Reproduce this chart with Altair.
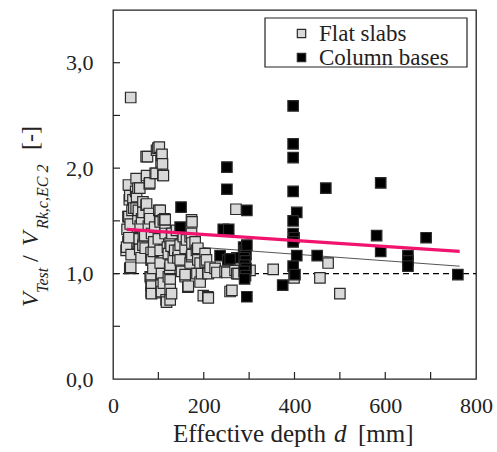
import altair as alt
import pandas as pd

# ---- data ----
flat_x = [29, 33, 34, 35, 36, 37, 37, 39, 39, 41, 44, 44, 45, 48, 48, 33, 30, 31, 35, 38,
          40, 42, 46, 50, 51, 51, 52, 55, 55, 56, 58, 59, 59, 60, 62, 63, 66, 66, 66, 67,
          70, 71, 73, 73, 74, 74, 76, 78, 80, 80, 81, 81, 82, 84, 84, 84, 84, 84, 85, 85,
          85, 85, 88, 89, 90, 92, 93, 95, 96, 99, 100, 101, 102, 103, 104, 104, 104, 104, 106, 106,
          106, 106, 107, 107, 107, 108, 109, 110, 111, 111, 111, 114, 115, 115, 115, 117, 118, 120, 122, 122,
          125, 126, 126, 128, 126, 126, 126, 129, 129, 130, 133, 136, 140, 143, 144, 148, 148, 151, 155, 159,
          159, 159, 162, 165, 166, 170, 170, 173, 173, 173, 174, 174, 174, 181, 184, 185, 187, 187, 192, 192,
          195, 199, 203, 203, 206, 209, 209, 210, 210, 214, 225, 229, 247, 251, 258, 262, 269, 269, 271, 273,
          273, 276, 302, 353, 399, 456, 474, 500]
flat_y = [1.22, 1.54, 1.84, 1.54, 1.70, 1.74, 1.05, 2.67, 1.06, 1.38, 1.38, 1.70, 1.29, 1.44, 1.29, 1.30, 1.25, 1.42, 1.34, 1.47,
          1.18, 1.60, 1.62, 1.78, 1.90, 1.62, 1.73, 1.81, 1.52, 1.60, 1.33, 1.81, 1.23, 1.45, 1.15, 1.52, 1.68, 1.58, 1.27, 1.35,
          1.36, 1.24, 2.11, 1.65, 1.66, 1.93, 2.11, 1.45, 1.85, 1.57, 1.86, 1.52, 0.97, 1.20, 1.13, 0.96, 0.89, 0.82, 1.38, 1.13,
          0.88, 0.81, 1.05, 1.21, 1.30, 1.44, 1.95, 1.95, 2.17, 2.19, 1.33, 1.60, 2.20, 1.52, 1.60, 1.49, 1.22, 1.10, 2.06, 0.94,
          0.89, 0.82, 2.12, 1.00, 0.83, 2.13, 2.04, 1.93, 1.93, 1.51, 0.91, 1.52, 1.51, 1.41, 1.38, 0.75, 0.73, 1.25, 0.97, 1.19,
          1.05, 1.08, 1.29, 1.26, 0.94, 0.85, 0.75, 0.81, 1.38, 1.38, 1.15, 1.22, 1.41, 1.15, 1.22, 1.27, 1.13, 1.02, 1.35, 0.97,
          1.24, 0.99, 1.32, 0.87, 0.88, 1.35, 1.10, 1.51, 1.38, 1.16, 1.49, 1.29, 1.18, 1.30, 1.22, 1.00, 1.24, 1.13, 1.10, 0.92,
          1.00, 0.79, 1.19, 1.11, 1.13, 1.01, 0.78, 1.00, 0.77, 1.06, 1.05, 1.01, 1.02, 1.01, 0.83, 0.84, 1.11, 1.03, 1.61, 1.13,
          1.00, 1.00, 1.03, 1.04, 0.96, 0.96, 1.10, 0.81]

col_x = [148, 150, 236, 243, 251, 251, 255, 253, 273, 258, 288, 291, 293, 289, 292, 290, 293, 289, 292, 290,
         295, 295, 295, 374, 397, 397, 397, 397, 405, 397, 397, 399, 397, 405, 397, 401, 450, 469, 581, 590,
         590, 650, 650, 650, 690, 760]
col_y = [1.44, 1.63, 1.17, 1.42, 2.01, 1.80, 1.42, 1.13, 1.15, 1.14, 1.25, 1.22, 1.18, 1.15, 1.12, 1.08, 1.05, 1.02, 0.98, 0.95,
         1.27, 1.60, 0.78, 0.89, 2.59, 2.23, 2.10, 1.78, 1.58, 1.50, 1.38, 1.34, 1.30, 1.17, 1.07, 0.99, 1.17, 1.81, 1.36, 1.86,
         1.21, 1.17, 1.12, 1.07, 1.34, 0.99]

series_names = ["Flat slabs", "Column bases"]

pink_x = [30, 764]
pink_y = [1.42, 1.21]
gray_x = [30, 764]
gray_y = [1.30, 1.07]
ref_x = [0, 800]
ref_y = [1.0, 1.0]

x_label_values = [0, 200, 400, 600, 800]
y_label_values = [0, 1, 2, 3]
x_minor_ticks = [100, 200, 300, 400, 500, 600, 700]
y_minor_ticks = [0.5, 1.0, 1.5, 2.0, 2.5, 3.0]

# ---- tables ----
pts = pd.DataFrame({
    "d": flat_x + col_x,
    "v": flat_y + col_y,
    "type": [series_names[0]] * len(flat_x) + [series_names[1]] * len(col_x),
    "ord": list(range(len(flat_x) + len(col_x))),
})
pink = pd.DataFrame({"d": pink_x, "v": pink_y})
gray = pd.DataFrame({"d": gray_x, "v": gray_y})
ref = pd.DataFrame({"d": ref_x, "v": ref_y})
xt = pd.DataFrame({"d": x_minor_ticks})
yt = pd.DataFrame({"v": y_minor_ticks})

FONT = "Liberation Serif"
TXT = "#222222"

xscale = alt.Scale(domain=[0, 800], nice=False)
yscale = alt.Scale(domain=[0, 3.5], nice=False)
xaxis = alt.Axis(values=x_label_values, title=None, grid=False, domain=False, ticks=False, tickSize=0,
                 labelFont=FONT, labelFontSize=22, labelColor=TXT, labelPadding=16, labelFlush=False)
yaxis = alt.Axis(values=y_label_values, title=None, grid=False, domain=False, ticks=False, tickSize=0,
                 labelFont=FONT, labelFontSize=22, labelColor=TXT, labelPadding=20,
                 labelExpr="replace(format(datum.value, '.1f'), '.', ',')")


def X(f="d"):
    return alt.X(f, type="quantitative", scale=xscale, axis=xaxis)


def Y(f="v"):
    return alt.Y(f, type="quantitative", scale=yscale, axis=yaxis)


refline = alt.Chart(ref).mark_line(color="black", strokeWidth=1.2, strokeDash=[6, 4]).encode(x=X(), y=Y())
grayline = alt.Chart(gray).mark_line(color="#555555", strokeWidth=1.0).encode(x=X(), y=Y())

points = alt.Chart(pts).mark_square(filled=True, size=110, stroke="#2a2a2a", strokeWidth=1.2, opacity=1).encode(
    x=X(), y=Y(),
    color=alt.Color("type:N",
                    scale=alt.Scale(domain=series_names, range=["#d9d9d9", "#000000"]),
                    legend=alt.Legend(title=None, orient="none", legendX=177, legendY=12,
                                      symbolType="square", symbolSize=70,
                                      symbolStrokeColor="#2a2a2a", symbolStrokeWidth=1.2,
                                      labelFont=FONT, labelFontSize=23, labelColor=TXT,
                                      labelOffset=6, rowPadding=0, padding=0)),
    order=alt.Order("ord:Q"),
)

pinkline = alt.Chart(pink).mark_line(color="#f0146e", strokeWidth=3.2).encode(x=X(), y=Y())

xticks = alt.Chart(xt).mark_rule(color="#222222", strokeWidth=1.2).encode(
    x=X(), y=alt.value(369), y2=alt.value(362))
yticks = alt.Chart(yt).mark_rule(color="#222222", strokeWidth=1.2).encode(
    y=Y(), x=alt.value(0), x2=alt.value(7))

legend_box = alt.Chart(pd.DataFrame({"a": [0]})).mark_rect(
    fill="white", fillOpacity=0, stroke="#222222", strokeWidth=1.2).encode(
    x=alt.value(152), x2=alt.value(354), y=alt.value(8), y2=alt.value(57))

one = pd.DataFrame({"a": [0]})


def txt(s, x, y, size, italic=False, angle=0):
    kw = dict(text=s, font=FONT, fontSize=size, color=TXT, align="left", baseline="alphabetic")
    if italic:
        kw["fontStyle"] = "italic"
    if angle:
        kw["angle"] = angle
    return alt.Chart(one).mark_text(**kw).encode(x=alt.value(x), y=alt.value(y))


xtitle = [
    txt("Effective depth", 60, 432, 25),
    txt("d", 221, 432, 25, italic=True),
    txt("[mm]", 245, 432, 25),
]
ytitle = [
    txt("V", -75, 297, 24, italic=True, angle=270),
    txt("Test", -65, 283, 16, italic=True, angle=270),
    txt("/", -75, 252, 24, angle=270),
    txt("V", -75, 236, 24, italic=True, angle=270),
    txt("Rk,c,EC 2", -65, 219, 16, italic=True, angle=270),
    txt("[-]", -75, 140, 24, angle=270),
]

chart = alt.layer(refline, grayline, points, pinkline, xticks, yticks, legend_box, *xtitle, *ytitle).properties(
    width=363, height=369,
    padding={"left": 113, "top": 10, "right": 21, "bottom": 73},
    autosize=alt.AutoSizeParams(type="none"),
    background="white",
).configure_view(stroke="#222222", strokeWidth=1.3).configure_axis(
    labelFont=FONT, labelFontSize=22, labelColor=TXT)

chart.save("out.html", embed_options={"renderer": "svg", "actions": False})
